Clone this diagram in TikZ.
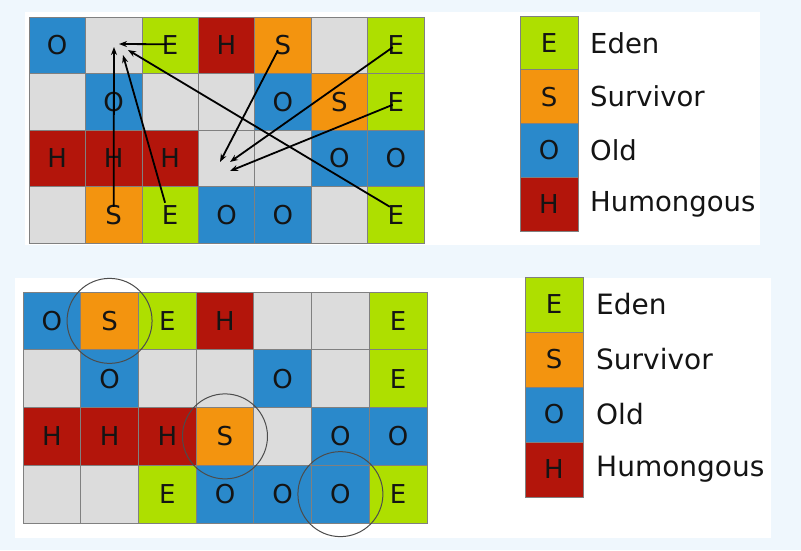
\documentclass[tikz,border=0pt]{standalone}
\usepackage{fontspec}
\setmainfont{DejaVu Sans}
\usetikzlibrary{arrows.meta,calc}
\definecolor{bgc}{HTML}{EFF7FD}
\definecolor{cE}{HTML}{AEDF00}
\definecolor{cS}{HTML}{F3940F}
\definecolor{cO}{HTML}{2A89CB}
\definecolor{cH}{HTML}{B3150B}
\definecolor{cN}{HTML}{DCDCDC}
\definecolor{txt}{HTML}{141414}
\begin{document}
\begin{tikzpicture}[x=1pt,y=-1pt,
  cell/.style={draw=black!50, line width=0.7pt, inner sep=0pt, text=txt,
    font=\fontsize{26}{30}\selectfont},
  topcell/.style={cell, minimum width=56.43pt, minimum height=56.5pt},
  botcell/.style={cell, minimum width=57.71pt, minimum height=57.75pt},
  legcell/.style={cell, minimum width=58pt},
  leglabel/.style={anchor=west, text=txt, inner sep=0pt},
  move/.style={line width=1.8pt, -{Stealth[length=8pt,width=6pt]}},
  ring/.style={draw=black!70, line width=1pt}]
\useasboundingbox (0,0) rectangle (801,550);
\fill[bgc] (0,0) rectangle (801,550);
\fill[white] (25,12) rectangle (760,245);
\fill[white] (15,278) rectangle (771,538);

% top grid
\foreach \row [count=\r from 0] in {{O,N,E,H,S,N,E},{N,O,N,N,O,S,E},{H,H,H,N,N,O,O},{N,S,E,O,O,N,E}}{
  \foreach \k [count=\c from 0] in \row {
    \node[topcell, fill=c\k] (t\r\c) at ({29+56.43*(\c+0.5)},{17+56.5*(\r+0.5)}) {\if N\k\else\k\fi};
  }
}
% bottom grid
\foreach \row [count=\r from 0] in {{O,S,E,H,N,N,E},{N,O,N,N,O,N,E},{H,H,H,S,N,O,O},{N,N,E,O,O,O,E}}{
  \foreach \k [count=\c from 0] in \row {
    \node[botcell, fill=c\k] (b\r\c) at ({23+57.71*(\c+0.5)},{292+57.75*(\r+0.5)}) {\if N\k\else\k\fi};
  }
}

% arrow targets
\coordinate (ta1) at (119,44);
\coordinate (ta2) at (114,47);
\coordinate (ta3) at (123,55);
\coordinate (ta4) at (128,50);
\coordinate (tb1) at (220,162);
\coordinate (tb2) at (230,162);
\coordinate (tb3) at (230,171);
\draw[move] ($(t02.center)+(-4,-1)$) -- (ta1);
\draw[move] ($(t31.center)+(0,-8)$) -- (ta2);
\draw[move] ($(t32.center)+(-5,-12)$) -- (ta3);
\draw[move] ($(t36.center)+(-6,-8)$) -- (ta4);
\draw[move] ($(t04.center)+(-5,5)$) -- (tb1);
\draw[move] ($(t06.center)+(-3,2)$) -- (tb2);
\draw[move] ($(t16.center)+(-3,3)$) -- (tb3);

% circles
\draw[ring] (b01.center) circle[radius=42.5];
\draw[ring] (b23.center) circle[radius=42.5];
\draw[ring] (b35.center) circle[radius=42.5];

% legends
\foreach \k/\name [count=\i from 0] in {E/Eden,S/Survivor,O/Old,H/Humongous}{
  \node[legcell, minimum height=53.75pt, fill=c\k] (lt\i) at (549,{16+53.75*(\i+0.5)}) {\k};
  \node[leglabel, font=\fontsize{27.5}{32}\selectfont] (ltl\i) at (590,{16+53.75*(\i+0.5)}) {\name};
  \node[legcell, minimum height=55pt, fill=c\k] (lb\i) at (554,{277+55*(\i+0.5)}) {\k};
  \node[leglabel, font=\fontsize{28}{33}\selectfont] (lbl\i) at (596,{277+55*(\i+0.5)}) {\name};
}
\end{tikzpicture}
\end{document}
